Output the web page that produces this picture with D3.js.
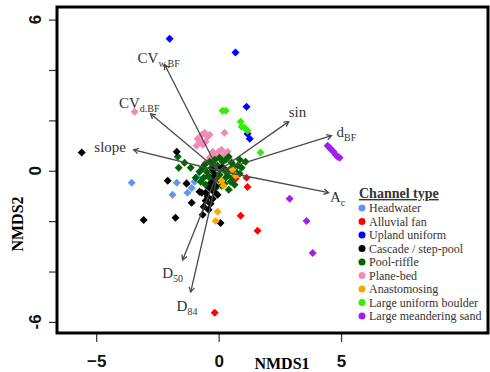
<!DOCTYPE html>
<html>
<head>
<meta charset="utf-8">
<script src="https://cdn.jsdelivr.net/npm/d3@7"></script>
<style>
  body { margin: 0; background: #fff; }
  svg { display: block; }
</style>
</head>
<body>
<svg id="nmds" width="490" height="372"></svg>
<script>
// site scores (NMDS1, NMDS2) per channel type
const headwater = [[-3.55,-0.48],[-1.71,-0.48],[-1.88,-0.95],[-1.31,-0.48],[-0.98,-0.44],[-1.10,-0.68],[-1.27,-0.87],[-0.86,-0.24]];
const alluvialFan = [[0.69,-0.32],[1.14,-0.28],[1.18,-0.64],[0.90,-1.79],[1.59,-2.38],[-0.16,-5.64]];
const uplandUniform = [[-2.0,5.24],[0.69,4.69],[1.14,2.54],[1.27,1.27],[1.18,1.47]];
const cascade = [[-5.59,0.72],[-1.71,0.75],[-2.08,-0.40],[-1.31,-0.52],[-0.69,-0.87],[-1.10,-1.27],[-3.06,-1.95],[-1.76,-1.87],
  [0.08,-2.07],[-0.65,-1.75],[-0.78,-0.83],[0.12,0.12],[-0.16,-0.20],[-0.29,-0.48],[-0.37,-0.68],[-0.20,-0.83],[-0.45,-1.03],
  [-0.53,-1.19],[-0.33,-1.31],[-0.61,-1.43],[-0.12,-0.60],[-0.04,-0.95],[-0.24,0.04],[-0.41,-1.55],[-0.24,-1.11],[-0.53,-0.87]];
const poolRiffle = [[-1.67,0.56],[-1.39,0.32],[-1.63,0.12],[-1.14,0.12],[-0.78,-0.04],[0.41,-0.75],[-0.94,-0.28],
  [-0.57,0.24],[-0.37,0.36],[-0.16,0.44],[0.04,0.52],[0.29,0.44],[0.53,0.32],[0.78,0.20],[-0.49,-0.04],[-0.29,0.12],
  [-0.04,0.20],[0.20,0.12],[0.45,0.04],[0.69,-0.04],[-0.61,-0.28],[-0.41,-0.20],[-0.20,-0.36],[0.04,-0.16],[0.29,-0.28],
  [0.49,-0.44],[-0.37,-0.52],[-0.12,-0.68],[0.12,-0.60],[0.86,0.44],[0.94,0.12],[0.37,-0.20],[-0.73,-0.44],
  [-0.24,0.32],[0.16,0.36],[0.61,0.20],[0.86,-0.12],[-0.20,-0.08],[0.29,-0.04],[0.0,-0.36],[0.57,-0.28],
  [-0.53,-0.56],[0.24,-0.52],[0.65,-0.56],[-0.65,0.12],[0.41,0.56],[1.10,0.36],[-0.37,-0.28]];
const planeBed = [[-3.43,2.34],[-0.57,1.51],[-0.45,1.35],[-0.78,1.19],[-0.65,1.03],[0.24,1.51],[-0.24,0.75],[0.0,0.75],
  [0.24,0.64],[-0.37,0.52],[-0.53,0.32],[-0.08,0.48],[0.45,0.44],[-0.90,0.99],
  [-0.69,1.43],[-0.37,1.43],[-0.53,1.15],[-0.86,1.27],[0.12,0.83],[-0.16,0.60],[0.37,0.75]];
const anastomosing = [[0.57,0.04],[0.69,-0.20],[0.12,-0.40],[0.20,-0.60],[-0.04,-1.63],[-0.12,-1.99]];
const uniformBoulder = [[0.16,2.38],[0.29,2.38],[0.90,1.95],[0.94,1.75],[1.06,1.71],[1.18,1.59],[1.71,0.72]];
const meanderingSand = [[4.45,0.99],[4.53,0.91],[4.61,0.83],[4.69,0.75],[4.78,0.64],[4.86,0.56],[4.94,0.52],
  [2.90,-1.11],[3.59,-1.99],[3.84,-3.26]];

const channelTypes = ["Headwater","Alluvial fan","Upland uniform","Cascade / step-pool","Pool-riffle",
  "Plane-bed","Anastomosing","Large uniform boulder","Large meandering sand"];
const typeColors = ["#6495ed","#ff0000","#0000ff","#000000","#006400","#f08cb4","#ffa500","#33ee00","#a020f0"];
const typeData = [headwater, alluvialFan, uplandUniform, cascade, poolRiffle, planeBed, anastomosing, uniformBoulder, meanderingSand];
const drawOrder = [0, 2, 1, 7, 8, 5, 4, 3, 6];

// fitted environmental vectors: name, subscript, tip, label position
const vecNames = ["CV","CV","slope","sin","d","A","D","D"];
const vecSubs  = ["w.BF","d.BF","","","BF","c","50","84"];
const vecTips  = [[-2.20,4.21],[-2.78,2.26],[-3.47,0.83],[2.86,1.95],[4.61,1.39],[4.49,-0.87],[-1.47,-3.54],[-1.14,-4.81]];
const vecLabels = [[-2.45,4.49],[-3.24,2.70],[-4.43,0.95],[3.22,2.34],[5.22,1.55],[4.86,-1.03],[-1.88,-4.05],[-1.29,-5.36]];

const xTicks = [-5, 0, 5];
const yTicks = [-6, -4, -2, 0, 2, 4, 6];
const yTickLabels = [-6, 0, 6];

const svg = d3.select("#nmds");
const box = {left: 57, right: 488, top: 7, bottom: 333};

const x = d3.scaleLinear().domain([-6.6, 11.0]).range([box.left, box.right]);
const y = d3.scaleLinear().domain([-6.44, 6.5]).range([box.bottom, box.top]);

// axes (R style: ticks outside the box, no axis line)
const xAxis = svg.append("g")
  .attr("transform", "translate(0," + box.bottom + ")")
  .call(d3.axisBottom(x).tickValues(xTicks).tickSize(9).tickPadding(13).tickFormat(d3.format("d")));
xAxis.select(".domain").remove();
xAxis.selectAll("line").attr("stroke", "#333").attr("stroke-width", 1.2);
xAxis.selectAll("text")
  .attr("font-family", "Liberation Sans, Arial, sans-serif")
  .attr("font-weight", "bold").attr("font-size", 17).attr("fill", "#111");

const yAxis = svg.append("g")
  .attr("transform", "translate(" + box.left + ",0)")
  .call(d3.axisLeft(y).tickValues(yTicks).tickSize(8).tickFormat(""));
yAxis.select(".domain").remove();
yAxis.selectAll("line").attr("stroke", "#333").attr("stroke-width", 1.2);

svg.append("g").selectAll("text")
  .data(yTickLabels)
  .join("text")
  .attr("transform", d => "translate(41," + y(d) + ") rotate(-90)")
  .attr("text-anchor", "middle")
  .attr("font-family", "Liberation Sans, Arial, sans-serif")
  .attr("font-weight", "bold").attr("font-size", 17).attr("fill", "#111")
  .text(d => d);

svg.append("text")
  .attr("x", 282).attr("y", 369)
  .attr("text-anchor", "middle")
  .attr("font-family", "Liberation Serif, Times New Roman, serif")
  .attr("font-weight", "bold").attr("font-size", 16)
  .text("NMDS1");

svg.append("text")
  .attr("transform", "translate(23,224) rotate(-90)")
  .attr("text-anchor", "middle")
  .attr("font-family", "Liberation Serif, Times New Roman, serif")
  .attr("font-weight", "bold").attr("font-size", 16)
  .text("NMDS2");

// site points (filled diamonds, pch 18)
const diamond = (cx, cy, r) => "M" + cx + "," + (cy - r) + "L" + (cx + r) + "," + cy + "L" + cx + "," + (cy + r) + "L" + (cx - r) + "," + cy + "Z";
const pts = svg.append("g");
drawOrder.forEach(i => {
  pts.selectAll(null)
    .data(typeData[i])
    .join("path")
    .attr("d", d => diamond(x(d[0]), y(d[1]), 4))
    .attr("fill", typeColors[i]);
});

// vectors
const vecColor = "#4a4a4a";
const vg = svg.append("g");
vecTips.forEach((t, i) => {
  const x0 = x(0), y0 = y(0), x1 = x(t[0]), y1 = y(t[1]);
  const a = Math.atan2(y1 - y0, x1 - x0);
  const h = 5.5, w = Math.PI / 6;
  vg.append("line")
    .attr("x1", x0).attr("y1", y0).attr("x2", x1).attr("y2", y1)
    .attr("stroke", vecColor).attr("stroke-width", 1.3);
  vg.append("path")
    .attr("d", "M" + (x1 - h * Math.cos(a - w)) + "," + (y1 - h * Math.sin(a - w)) +
      "L" + x1 + "," + y1 +
      "L" + (x1 - h * Math.cos(a + w)) + "," + (y1 - h * Math.sin(a + w)))
    .attr("fill", "none").attr("stroke", vecColor).attr("stroke-width", 1.3);

  const lab = vg.append("text")
    .attr("x", x(vecLabels[i][0])).attr("y", y(vecLabels[i][1]) + 5)
    .attr("text-anchor", "middle")
    .attr("font-family", "Liberation Serif, Times New Roman, serif")
    .attr("font-size", 15).attr("fill", "#333");
  lab.append("tspan").text(vecNames[i]);
  if (vecSubs[i]) {
    lab.append("tspan").attr("dy", 4).attr("font-size", 10).text(vecSubs[i]);
  }
});

// plot frame
svg.append("rect")
  .attr("x", box.left).attr("y", box.top)
  .attr("width", box.right - box.left).attr("height", box.bottom - box.top)
  .attr("fill", "none").attr("stroke", "#000").attr("stroke-width", 3);

// legend
const leg = svg.append("g").attr("transform", "translate(359,0)");
leg.append("text")
  .attr("x", 0).attr("y", 198)
  .attr("font-family", "Liberation Serif, Times New Roman, serif")
  .attr("font-weight", "bold").attr("font-size", 14).attr("fill", "#333")
  .attr("text-decoration", "underline")
  .text("Channel type");
const rows = leg.selectAll("g.row")
  .data(channelTypes)
  .join("g")
  .attr("class", "row")
  .attr("transform", (d, i) => "translate(0," + (208 + i * 13.5) + ")");
rows.append("circle").attr("cx", 3).attr("cy", 0).attr("r", 3.5).attr("fill", (d, i) => typeColors[i]);
rows.append("text")
  .attr("x", 10).attr("y", 4)
  .attr("font-family", "Liberation Serif, Times New Roman, serif")
  .attr("font-size", 12).attr("fill", "#333")
  .text(d => d);
</script>
</body>
</html>
